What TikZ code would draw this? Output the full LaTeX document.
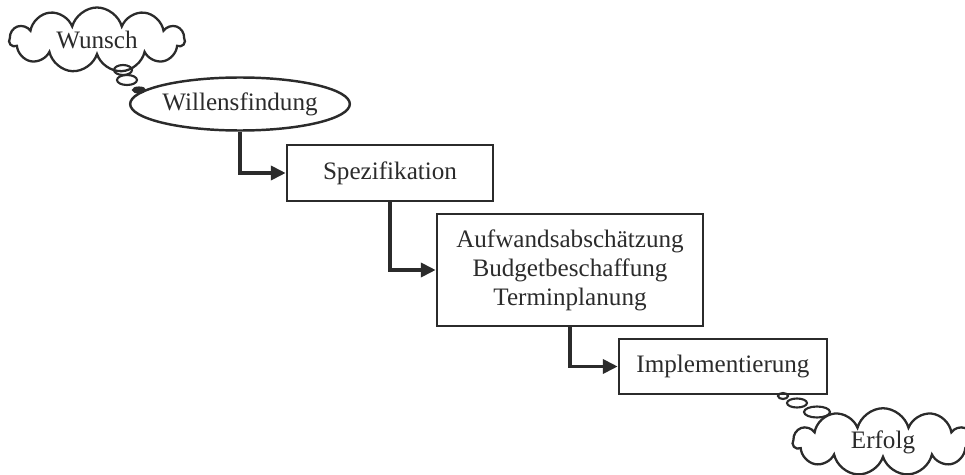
\documentclass[tikz,border=0pt]{standalone}
\usepackage{fontspec}
\setmainfont{Liberation Serif}
\usetikzlibrary{shapes.symbols,shapes.geometric,arrows.meta}
\definecolor{ink}{HTML}{2B2B2B}
\begin{document}
\begin{tikzpicture}[font=\fontsize{14.3}{16.5}\selectfont,color=ink]
        \useasboundingbox (0,0) rectangle (19.3,-9.5);
        \begin{scope}[every node/.style={cloud,draw,line width=1.3pt,cloud puffs=11,cloud ignores aspect,inner sep=0pt}]
            \node (wunsch) [minimum width=3.5cm,minimum height=1.3cm] at (1.94,-0.8) {Wunsch};
            \node (erfolg) [minimum width=3.6cm,minimum height=1.35cm] at (17.66,-8.84) {Erfolg};
        \end{scope}
        \begin{scope}[every node/.style={draw,line width=1.4pt,inner sep=0pt,align=center}]
            \node (wille) [ellipse,minimum width=4.1cm,minimum height=1.06cm] at (4.8,-2.08) {Willensfindung};
            \node (spez) [rectangle,minimum width=4.12cm,minimum height=1.12cm] at (7.8,-3.46) {Spezifikation};
            \node (aufw) [rectangle,minimum width=5.32cm,minimum height=2.24cm] at (11.4,-5.4) {Aufwandsabschätzung\\Budgetbeschaffung\\Terminplanung};
            \node (impl) [rectangle,minimum width=4.16cm,minimum height=1.1cm] at (14.46,-7.33) {Implementierung};
        \end{scope}
        % thought bubbles
        \begin{scope}[line width=1.2pt]
            \draw (2.46,-1.4) ellipse (0.18 and 0.1);
            \draw (2.54,-1.6) ellipse (0.2 and 0.1);
            \draw[fill=ink] (2.78,-1.8) ellipse (0.12 and 0.05);
            \draw (15.66,-7.92) ellipse (0.1 and 0.06);
            \draw (15.94,-8.06) ellipse (0.2 and 0.09);
            \draw (16.34,-8.24) ellipse (0.26 and 0.11);
        \end{scope}
        \begin{scope}[every edge/.style={draw,line width=2.2pt,-{Triangle[length=3mm,width=2.8mm]},to path={(\tikztostart) |- (\tikztotarget)}}]
            \path
                (wille) edge (spez)
                (spez) edge (aufw)
                (aufw) edge (impl);
        \end{scope}
    \end{tikzpicture}
\end{document}
